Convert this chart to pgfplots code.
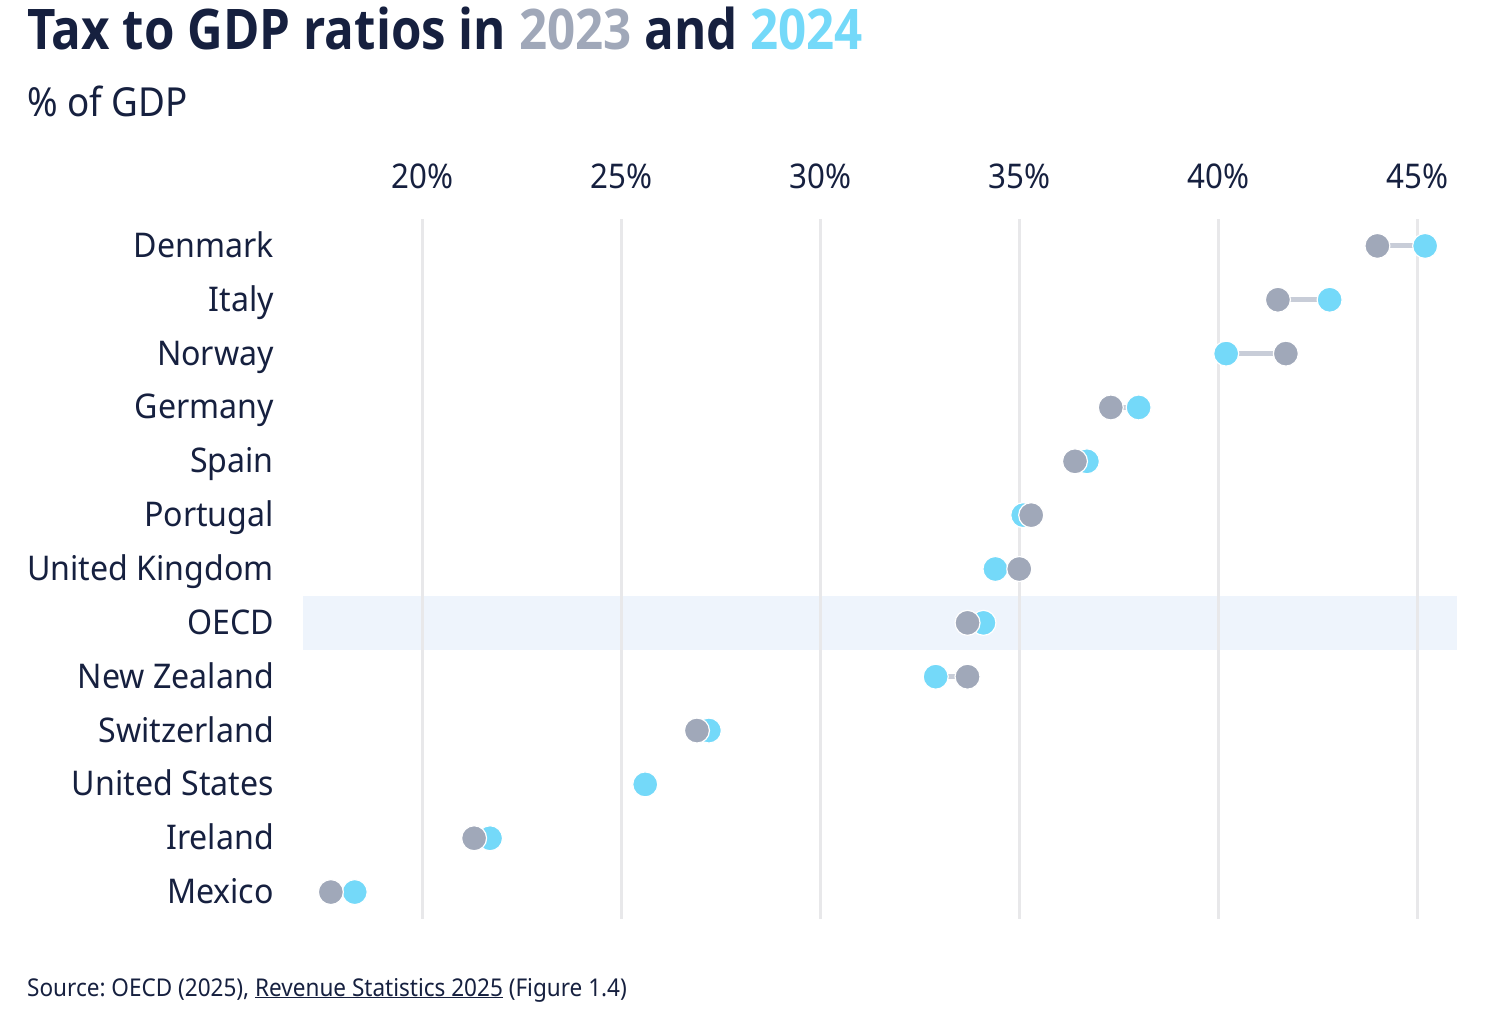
\documentclass[border=0pt]{standalone}
\usepackage{pgfplots}
\pgfplotsset{compat=1.18}
\usepackage{fontspec}
\setmainfont{Noto Sans}[FakeStretch=0.92]
\newfontfamily\labelfont{Noto Sans}[FakeStretch=0.945]
\IfFontExistsTF{Open Sans Bold}{\newfontfamily\titlefont{Open Sans Bold}[FakeStretch=0.88]}{\newfontfamily\titlefont{Noto Sans}[FakeStretch=0.88,FakeBold=4]}
\frenchspacing
\definecolor{navy}{HTML}{16203F}
\definecolor{c23}{HTML}{A0A8B9}
\definecolor{c24}{HTML}{74D9F9}
\definecolor{linecol}{HTML}{C8CDD8}
\definecolor{band}{HTML}{EEF4FC}
\definecolor{gridcol}{HTML}{E8E8EA}
\begin{document}
\begin{tikzpicture}[x=1pt,y=1pt]
\begin{axis}[
  at={(303pt,107pt)}, anchor=south west,
  scale only axis, width=1154pt, height=700pt,
  xmin=17, xmax=46, ymin=-0.5, ymax=12.5,
  set layers, clip=false,
  axis line style={draw=none},
  major tick style={draw=none},
  xtick={20,25,30,35,40,45},
  xticklabels={20\%,25\%,30\%,35\%,40\%,45\%},
  xticklabel pos=right,
  xticklabel style={anchor=south, inner sep=0pt, yshift=30pt, text=navy, font=\fontsize{34}{40}\selectfont},
  ytick={0,1,2,3,4,5,6,7,8,9,10,11,12},
  yticklabels={Mexico,Ireland,United States,Switzerland,New Zealand,OECD,United Kingdom,Portugal,Spain,Germany,Norway,Italy,Denmark},
  yticklabel style={anchor=base east, inner sep=0pt, xshift=-29pt, yshift=-11.5pt, text=navy, font=\labelfont\fontsize{34}{40}\selectfont},
  xmajorgrids, major grid style={draw=gridcol, line width=3pt},
]
\begin{pgfonlayer}{axis background}
\fill[band] (axis cs:17,4.5) rectangle (axis cs:46,5.5);
\end{pgfonlayer}
% connecting lines (2023 -> 2024)
\addplot[linecol, line width=5pt, unbounded coords=jump, mark=none] coordinates {
(44.0,12) (45.2,12) (nan,nan)
(41.5,11) (42.8,11) (nan,nan)
(41.7,10) (40.2,10) (nan,nan)
(37.3,9) (38.0,9) (nan,nan)
(36.4,8) (36.7,8) (nan,nan)
(35.3,7) (35.1,7) (nan,nan)
(35.0,6) (34.4,6) (nan,nan)
(33.7,5) (34.1,5) (nan,nan)
(33.7,4) (32.9,4) (nan,nan)
(26.9,3) (27.2,3) (nan,nan)
(25.6,2) (25.6,2) (nan,nan)
(21.3,1) (21.7,1) (nan,nan)
(17.7,0) (18.3,0)
};
% 2024
\addplot[only marks, mark=*, mark size=12.5pt, mark options={fill=c24, draw=white, line width=1.2pt}] coordinates {
(45.2,12) (42.8,11) (40.2,10) (38.0,9) (36.7,8) (35.1,7) (34.4,6) (34.1,5) (32.9,4) (27.2,3) (25.6,2) (21.7,1) (18.3,0)
};
% 2023
\addplot[only marks, mark=*, mark size=12.5pt, mark options={fill=c23, draw=white, line width=1.2pt}] coordinates {
(44.0,12) (41.5,11) (41.7,10) (37.3,9) (36.4,8) (35.3,7) (35.0,6) (33.7,5) (33.7,4) (26.9,3) (25.6,2) (21.3,1) (17.7,0)
};
% United States 2024 point shown on top
\addplot[only marks, mark=*, mark size=12.5pt, mark options={fill=c24, draw=white, line width=1.2pt}] coordinates {(25.6,2)};
\end{axis}
\node[anchor=base west, inner sep=0pt, text=navy, font=\titlefont\fontsize{56}{60}\selectfont] at (27,976) {Tax to GDP ratios in \textcolor{c23}{2023} and \textcolor{c24}{2024}};
\node[anchor=base west, inner sep=0pt, text=navy, font=\fontsize{40}{46}\selectfont] at (27,909) {\% of GDP};
\node[anchor=base west, inner sep=0pt, text=navy, font=\fontsize{24.5}{28}\selectfont] at (27,30) {Source: OECD (2025), \underline{Revenue Statistics 2025} (Figure 1.4)};
\pgfresetboundingbox
\path[use as bounding box] (0,0) rectangle (1512,1026);
\end{tikzpicture}
\end{document}
